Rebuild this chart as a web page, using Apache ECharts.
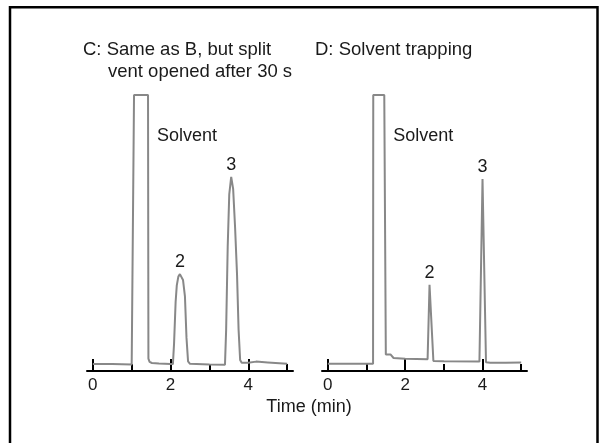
<!DOCTYPE html>
<html>
<head>
<meta charset="utf-8">
<script src="https://cdn.jsdelivr.net/npm/echarts@6/dist/echarts.min.js"></script>
<style>html,body{margin:0;padding:0;background:#fff}#c{width:606px;height:443px}</style>
</head>
<body>
<div id="c"></div>
<script>
// Panel C: time (min) and detector signal (% of full scale)
var timeC   = [0, 0.5, 1.0, 1.05, 1.06, 1.42, 1.43, 1.46, 1.52, 1.7, 2.0, 2.06, 2.09, 2.13, 2.16, 2.2, 2.24, 2.28, 2.32, 2.37, 2.41, 2.45, 2.5, 3.0, 3.40, 3.43, 3.47, 3.51, 3.56, 3.61, 3.66, 3.71, 3.75, 3.79, 3.83, 4.0, 4.2, 4.5, 5.0];
var signalC = [2.5, 2.5, 2.4, 2.4, 100, 100, 4.5, 3.3, 2.9, 2.7, 2.5, 2.5, 10, 25, 31, 34.2, 35.1, 34.5, 33, 27, 12, 3.5, 2.6, 2.4, 2.3, 15, 45, 64, 70.3, 66, 52, 35, 15, 4, 3.0, 3.0, 3.4, 3.1, 2.6];
// Panel D
var timeD   = [0, 0.5, 1.17, 1.175, 1.46, 1.5, 1.62, 1.66, 1.70, 1.75, 2.0, 2.58, 2.63, 2.73, 3.0, 3.92, 4.0, 4.09, 4.2, 4.6, 5.0];
var signalD = [2.6, 2.6, 2.6, 100, 100, 6.0, 6.0, 5.3, 4.7, 4.4, 4.4, 4.3, 31.2, 3.6, 3.5, 3.4, 69.6, 3.2, 3.0, 3.0, 3.1];
// Peak annotations
var peakNames  = ['2', '3'];
var peakTimesC = [2.24, 3.56];
var peakTimesD = [2.63, 4.0];
var solventEndC = 1.42, solventEndD = 1.46, solventLabelLevel = 85;
// Axis ticks
var majorTicks = [0, 2, 4];
var minorTicks = [1, 3, 5];
var titleC1 = 'C: Same as B, but split', titleC2 = 'vent opened after 30 s';
var titleD = 'D: Solvent trapping';
var xTitle = 'Time (min)';

var FONT = 'Liberation Sans, Arial, Helvetica, sans-serif';
var TXT = '#1a1a1a';

function pairs(t, s) { return t.map(function (v, i) { return [v, s[i]]; }); }
function valAt(t, s, x) { var i = t.indexOf(x); return s[i]; }
function marks(t, s, times, solventEnd) {
  var d = times.map(function (x, i) {
    return { name: peakNames[i], coord: [x, valAt(t, s, x)],
      label: { position: 'inside', offset: [0, -12] } };
  });
  d.push({ name: 'Solvent', coord: [solventEnd, solventLabelLevel],
    label: { position: 'right', distance: 9 } });
  return {
    symbol: 'circle', symbolSize: 0, silent: true,
    label: { show: true, formatter: '{b}', fontSize: 18, fontFamily: FONT, color: TXT },
    data: d
  };
}
function xAxes(g) {
  return [
    { type: 'value', gridIndex: g, position: 'bottom', min: -0.15, max: 5.15,
      axisLine: { show: true, lineStyle: { color: '#000', width: 2 } },
      axisTick: { show: true, inside: true, length: 12, customValues: majorTicks, lineStyle: { color: '#000', width: 2 } },
      axisLabel: { show: true, customValues: majorTicks, margin: 6, fontSize: 17, fontFamily: FONT, color: TXT },
      splitLine: { show: false } },
    { type: 'value', gridIndex: g, position: 'bottom', offset: 0, min: -0.15, max: 5.15,
      axisLine: { show: false },
      axisTick: { show: true, inside: true, length: 7, customValues: minorTicks, lineStyle: { color: '#000', width: 2 } },
      axisLabel: { show: false },
      splitLine: { show: false } }
  ];
}
var lineStyle = { color: '#888888', width: 2 };
var chart = echarts.init(document.getElementById('c'), null, { renderer: 'canvas' });
chart.setOption({
  animation: false,
  backgroundColor: '#fff',
  grid: [
    { left: 87, width: 206, top: 95, bottom: 72 },
    { left: 322, width: 205, top: 95, bottom: 72 }
  ],
  xAxis: xAxes(0).concat(xAxes(1)),
  yAxis: [
    { type: 'value', gridIndex: 0, min: 0, max: 100, show: false },
    { type: 'value', gridIndex: 1, min: 0, max: 100, show: false }
  ],
  series: [
    { type: 'line', xAxisIndex: 0, yAxisIndex: 0, data: pairs(timeC, signalC), showSymbol: false, clip: false,
      lineStyle: lineStyle, markPoint: marks(timeC, signalC, peakTimesC, solventEndC) },
    { type: 'line', xAxisIndex: 2, yAxisIndex: 1, data: pairs(timeD, signalD), showSymbol: false, clip: false,
      lineStyle: lineStyle, markPoint: marks(timeD, signalD, peakTimesD, solventEndD) }
  ],
  graphic: [
    { type: 'rect', shape: { x: 10, y: 7.2, width: 587.5, height: 460 }, style: { fill: 'none', stroke: '#000', lineWidth: 2.5 }, silent: true },
    { type: 'text', x: 83, y: 50, style: { text: titleC1, font: '18.5px ' + FONT, fill: TXT, verticalAlign: 'middle' } },
    { type: 'text', x: 108, y: 72, style: { text: titleC2, font: '18.5px ' + FONT, fill: TXT, verticalAlign: 'middle' } },
    { type: 'text', x: 315, y: 50, style: { text: titleD, font: '18.5px ' + FONT, fill: TXT, verticalAlign: 'middle' } },
    { type: 'text', x: 309, y: 407, style: { text: xTitle, font: '18px ' + FONT, fill: TXT, align: 'center', verticalAlign: 'middle' } }
  ]
});
</script>
</body>
</html>
